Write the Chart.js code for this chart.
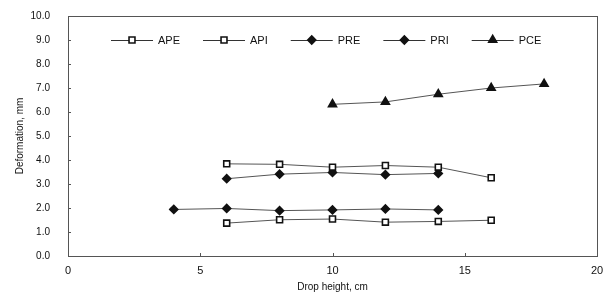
<!DOCTYPE html>
<html>
<head>
<meta charset="utf-8">
<script src="https://cdn.jsdelivr.net/npm/chart.js@4/dist/chart.umd.min.js"></script>
<style>
  html, body { margin: 0; padding: 0; background: #fff; }
  #wrap { width: 607px; height: 300px; }
</style>
</head>
<body>
<div id="wrap"><canvas id="chart"></canvas></div>
<script>
// drop heights, cm
const heights = [4, 6, 8, 10, 12, 14, 16, 18];

// deformation, mm (null where no measurement)
const ape = [null, 3.84, 3.82, 3.70, 3.77, 3.70, 3.26, null];
const api = [null, 1.37, 1.51, 1.54, 1.41, 1.44, 1.49, null];
const pre = [null, 3.22, 3.41, 3.48, 3.39, 3.44, null, null];
const pri = [1.94, 1.98, 1.89, 1.92, 1.96, 1.92, null, null];
const pce = [null, null, null, 6.32, 6.42, 6.74, 7.00, 7.17];

const seriesNames = ['APE', 'API', 'PRE', 'PRI', 'PCE'];
const xTicks = [0, 5, 10, 15, 20];
const yMax = 10;

const FONT = "'Liberation Sans', Arial, sans-serif";

function points(values) {
    let out = [];
    for (let i = 0; i < heights.length; i++) {
        if (values[i] !== null) out.push({ x: heights[i], y: values[i] });
    }
    return out;
}

function series(label, values, style, fill, radius) {
    return {
        label: label,
        data: points(values),
        borderColor: '#555',
        borderWidth: 1,
        pointStyle: style,
        pointRadius: radius,
        pointHoverRadius: radius,
        pointBackgroundColor: fill,
        pointBorderColor: '#111',
        pointBorderWidth: 1.6,
        tension: 0
    };
}

// frame, inward ticks and legend with line + marker samples
const extras = {
    id: 'extras',
    afterDraw(chart) {
        const ctx = chart.ctx;
        const a = chart.chartArea;
        const xs = chart.scales.x;
        const ys = chart.scales.y;
        ctx.save();
        ctx.strokeStyle = '#555';
        ctx.lineWidth = 1;
        ctx.strokeRect(a.left + 0.5, a.top + 0.5, a.right - a.left, a.bottom - a.top);
        ctx.beginPath();
        for (let v = 1; v < yMax; v++) {
            let y = Math.round(ys.getPixelForValue(v)) + 0.5;
            ctx.moveTo(a.left, y);
            ctx.lineTo(a.left + 3, y);
        }
        xTicks.slice(1, -1).forEach(v => {
            let x = Math.round(xs.getPixelForValue(v)) + 0.5;
            ctx.moveTo(x, a.bottom);
            ctx.lineTo(x, a.bottom - 3);
        });
        ctx.stroke();

        ctx.font = '11px ' + FONT;
        ctx.textBaseline = 'middle';
        ctx.fillStyle = '#111';
        let x = a.left + 43;
        const y = ys.getPixelForValue(9.0);
        chart.data.datasets.forEach(ds => {
            ctx.strokeStyle = '#333';
            ctx.lineWidth = 1;
            ctx.beginPath();
            ctx.moveTo(x, y + 0.5);
            ctx.lineTo(x + 42, y + 0.5);
            ctx.stroke();
            ctx.fillStyle = ds.pointBackgroundColor;
            ctx.strokeStyle = ds.pointBorderColor;
            ctx.lineWidth = ds.pointBorderWidth;
            Chart.helpers.drawPoint(ctx, { pointStyle: ds.pointStyle, radius: ds.pointRadius, borderWidth: ds.pointBorderWidth }, x + 21, y);
            ctx.fillStyle = '#111';
            ctx.fillText(ds.label, x + 47, y + 1);
            x += 47 + ctx.measureText(ds.label).width + 23;
        });
        ctx.restore();
    }
};

new Chart(document.getElementById('chart'), {
    type: 'line',
    data: {
        datasets: [
            series(seriesNames[0], ape, 'rect', '#fff', 4.2),
            series(seriesNames[1], api, 'rect', '#fff', 4.2),
            series(seriesNames[2], pre, 'rectRot', '#111', 4),
            series(seriesNames[3], pri, 'rectRot', '#111', 4),
            series(seriesNames[4], pce, 'triangle', '#111', 4.6)
        ]
    },
    options: {
        responsive: true,
        maintainAspectRatio: false,
        animation: false,
        events: [],
        layout: { padding: { top: 12, right: 10, left: 14, bottom: 0 } },
        plugins: {
            legend: { display: false },
            tooltip: { enabled: false }
        },
        scales: {
            x: {
                type: 'linear',
                min: 0,
                max: 20,
                afterBuildTicks: s => { s.ticks = xTicks.map(v => ({ value: v })); },
                grid: { display: false },
                border: { display: false },
                ticks: { color: '#111', font: { family: FONT, size: 11 }, padding: 0, maxRotation: 0 },
                title: { display: true, text: 'Drop height, cm', color: '#111', font: { family: FONT, size: 10 }, padding: { top: 4, bottom: 7 } },
                afterFit: s => { s.height = 44; }
            },
            y: {
                min: 0,
                max: yMax,
                ticks: { stepSize: 1, color: '#111', font: { family: FONT, size: 10 }, padding: 10, callback: v => v.toFixed(1) },
                grid: { display: false },
                border: { display: false },
                title: { display: true, text: 'Deformation, mm', color: '#111', font: { family: FONT, size: 10 }, padding: { top: 0, bottom: 6 } },
                afterFit: s => { s.width = 54; }
            }
        }
    },
    plugins: [extras]
});
</script>
</body>
</html>
